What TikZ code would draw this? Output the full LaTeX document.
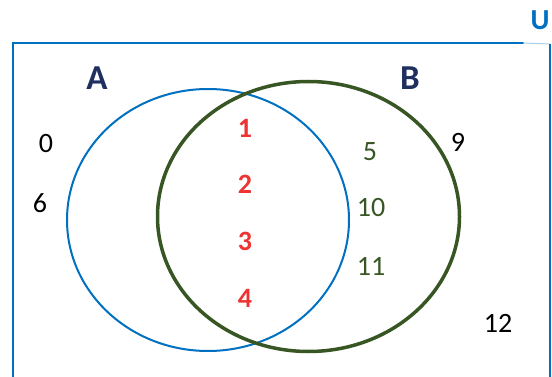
\documentclass[tikz,border=0pt]{standalone}
\usepackage{fontspec}
\setmainfont{Carlito}
\definecolor{ublue}{HTML}{0070C0}
\definecolor{lblue}{HTML}{A9CFEA}
\definecolor{bgreen}{HTML}{375623}
\definecolor{nred}{HTML}{EE3333}
\definecolor{navy}{HTML}{1F2F5F}
\begin{document}
\begin{tikzpicture}[x=1pt,y=-1pt,
  frame/.style={ublue, line width=2pt},
  num/.style={font=\fontsize{28}{32}\selectfont, inner sep=0pt},
  rnum/.style={num, font=\fontsize{28}{32}\selectfont\bfseries, text=nred},
  gnum/.style={num, text=bgreen},
  setlab/.style={font=\fontsize{35}{40}\selectfont\bfseries, text=navy, inner sep=0pt}]
\useasboundingbox (0,0) rectangle (552,377);
\coordinate (bl) at (13,377);
\coordinate (tl) at (13,43);
\coordinate (tm) at (523,43);
\coordinate (tr) at (550,44);
\coordinate (br) at (550,377);
\draw[frame, line cap=rect] (bl) -- (tl) -- (tm);
\draw[lblue, line width=1pt] (tm) -- (tr);
\draw[frame] (tr) -- (br);
\node[font=\fontsize{29}{32}\selectfont\bfseries, text=ublue, inner sep=0pt] (U) at (540,20) {U};
\draw[ublue, line width=2pt] (208,220) ellipse [x radius=141, y radius=131];
\draw[bgreen, line width=3.5pt] (308.5,216.5) ellipse [x radius=151, y radius=135];
\node[setlab] (A) at (97,78) {A};
\node[setlab] (B) at (410,78) {B};
\node[num] (n0) at (46,144) {0};
\node[num] (n6) at (40,203) {6};
\node[rnum] (n1) at (245,128) {1};
\node[rnum] (n2) at (245,184) {2};
\node[rnum] (n3) at (245,241) {3};
\node[rnum] (n4) at (245,298) {4};
\node[gnum] (n5) at (370,152) {5};
\node[gnum] (n10) at (371,208) {10};
\node[gnum] (n11) at (371,266) {11};
\node[num] (n9) at (458,142) {9};
\node[num] (n12) at (498,323) {12};
\end{tikzpicture}
\end{document}
